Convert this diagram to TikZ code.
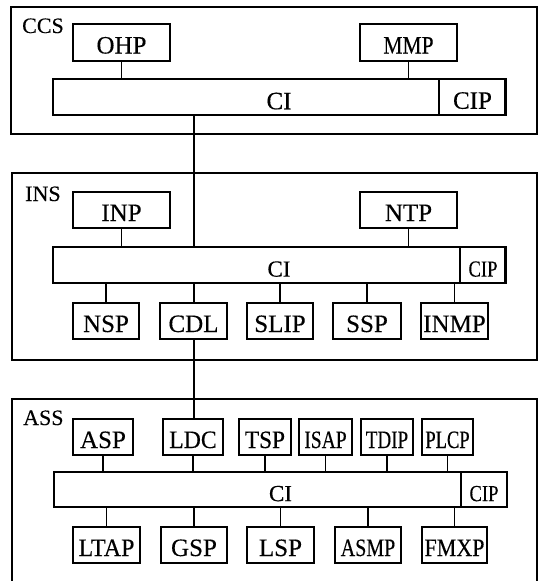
\documentclass[tikz,border=0pt]{standalone}
\usepackage{fontspec}
\setmainfont{Liberation Serif}[FakeBold=0.3]
\begin{document}
\begin{tikzpicture}[x=1pt,y=-1pt,
  frame/.style={draw, line width=1.4pt},
  box/.style={draw, line width=1.4pt, inner sep=0pt, minimum height=36pt,
    font=\fontsize{25}{25}\selectfont, text height=22pt, text depth=0pt},
  bar/.style={box, minimum height=36pt},
  smallbar/.style={box, font=\fontsize{23}{23}\selectfont, text height=23.2pt},
  grp/.style={anchor=base west, inner sep=0pt, font=\fontsize{22}{22}\selectfont},
  conn/.style={line width=1.3pt},
  trunk/.style={line width=2pt}]
\useasboundingbox (0,0) rectangle (540,581);

% ---------- CCS ----------
\draw[frame] (11,7) rectangle (537,134);
\node[grp] (ccs) at (22,33) {CCS};
\node[box, minimum width=97pt, minimum height=37pt] (ohp) at (121.5,42.5) {OHP};
\node[box, minimum width=97pt, minimum height=37pt] (mmp) at (408.5,42.5) {\scalebox{0.86}[1]{MMP}};
\node[bar, minimum width=452pt, text height=24.5pt] (ci1) at (279,97) {CI};
\node[box, minimum width=67pt, text height=23.5pt] (cip1) at (472.5,97) {CIP};
\draw[conn] (ohp.south) -- (ohp.south |- ci1.north);
\draw[conn] (mmp.south) -- (mmp.south |- ci1.north);

% ---------- INS ----------
\draw[frame] (12,173) rectangle (537,360);
\node[grp] (ins) at (25,201) {INS};
\node[box, minimum width=97pt] (inp) at (121.5,210) {INP};
\node[box, minimum width=97pt] (ntp) at (408.5,210) {NTP};
\node[smallbar, minimum width=452pt] (ci2) at (279,265) {CI};
\node[smallbar, minimum width=46pt] (cip2) at (483,265) {\scalebox{0.81}[1]{CIP}};
\node[box, minimum width=66pt] (nsp) at (106,321) {NSP};
\node[box, minimum width=67pt] (cdl) at (193.5,321) {CDL};
\node[box, minimum width=66pt] (slip) at (280,321) {SLIP};
\node[box, minimum width=68pt] (ssp) at (367,321) {SSP};
\node[box, minimum width=67pt] (inmp) at (454.5,321) {INMP};
\draw[conn] (inp.south) -- (inp.south |- ci2.north);
\draw[conn] (ntp.south) -- (ntp.south |- ci2.north);
\foreach \b in {nsp,slip,ssp,inmp}
  \draw[conn] (\b.north) -- (\b.north |- ci2.south);
\draw[trunk] (ci1.south -| cdl.north) -- (ci2.north -| cdl.north);
\draw[trunk] (cdl.north) -- (cdl.north |- ci2.south);

% ---------- ASS ----------
\draw[frame] (12,581) -- (12,399) -- (537,399) -- (537,581);
\node[grp] (ass) at (23,425) {ASS};
\node[box, minimum width=60pt] (asp) at (103,437) {ASP};
\node[box, minimum width=60pt] (ldc) at (193,437) {\scalebox{0.95}[1]{LDC}};
\node[box, minimum width=52pt] (tsp) at (265,437) {\scalebox{0.93}[1]{TSP}};
\node[box, minimum width=53pt] (isap) at (325.5,437) {\scalebox{0.78}[1]{ISAP}};
\node[box, minimum width=52pt] (tdip) at (387,437) {\scalebox{0.76}[1]{TDIP}};
\node[box, minimum width=51pt] (plcp) at (447.5,437) {\scalebox{0.74}[1]{PLCP}};
\node[smallbar, minimum width=453pt, minimum height=35pt] (ci3) at (280.5,489.5) {CI};
\node[smallbar, minimum width=46pt, minimum height=35pt] (cip3) at (484,489.5) {\scalebox{0.81}[1]{CIP}};
\node[box, minimum width=67pt] (ltap) at (106.5,545) {\scalebox{0.96}[1]{LTAP}};
\node[box, minimum width=66pt] (gsp) at (194,545) {GSP};
\node[box, minimum width=67pt] (lsp) at (280.5,545) {LSP};
\node[box, minimum width=66pt] (asmp) at (368,545) {\scalebox{0.8}[1]{ASMP}};
\node[box, minimum width=65pt] (fmxp) at (454.5,545) {\scalebox{0.88}[1]{FMXP}};
\foreach \b in {asp,ldc,tsp,isap,tdip,plcp}
  \draw[conn] (\b.south) -- (\b.south |- ci3.north);
\foreach \b in {ltap,gsp,lsp,asmp,fmxp}
  \draw[conn] (\b.north) -- (\b.north |- ci3.south);
\draw[trunk] (cdl.south) -- (cdl.south |- ldc.north);
\end{tikzpicture}
\end{document}
